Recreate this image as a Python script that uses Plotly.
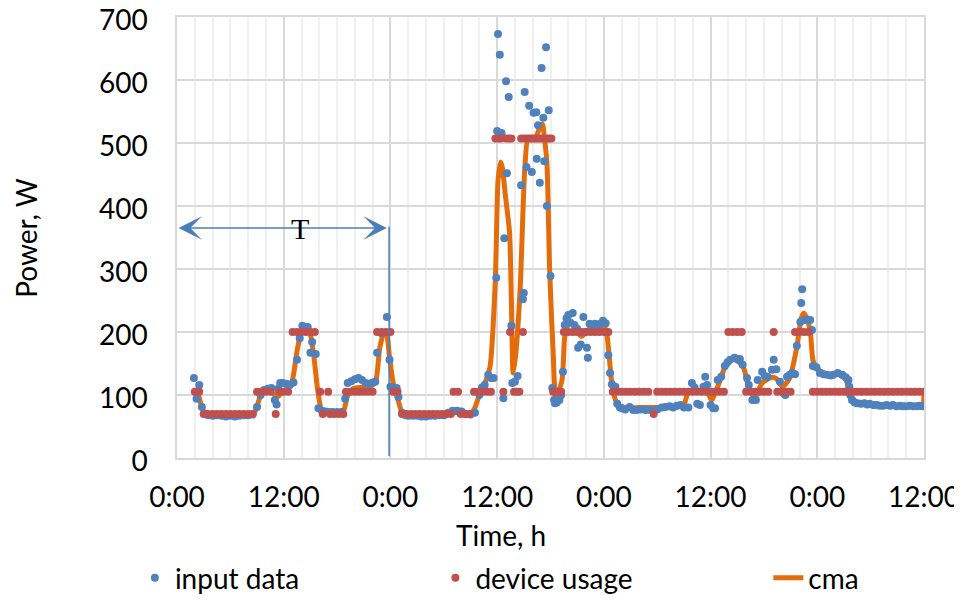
import plotly.graph_objects as go

# ---- data (hours from start, watts) ----
input_hours = [1.9, 2.2, 2.5, 2.8, 3.2, 3.5, 4, 4.5, 5, 5.5, 6, 6.5, 7, 7.5, 8, 8.5, 9, 9.4, 9.8, 10.2,
               10.6, 11, 11.2, 11.4, 11.6, 11.9, 12.3, 12.7, 13.1, 13.5, 13.8, 14.1, 14.4, 14.7, 15, 15.2,
               15.6, 15.9, 16.3, 16.7, 17.1, 17.5, 18, 18.5, 18.9, 19.2, 19.6, 20, 20.4, 20.8, 21.2, 21.6,
               22, 22.3, 22.5, 23, 23.6, 23.9, 24, 24.3, 24.7, 24.9, 25.3, 25.7, 26, 26.5, 27, 27.5, 28,
               28.5, 29, 29.5, 30, 30.5, 31, 31.5, 32, 32.5, 33, 33.5, 34, 34.3, 34.6, 35, 35.3, 35.6,
               35.9, 36, 36.1, 36.3, 36.5, 36.7, 36.8, 37, 37.1, 37.3, 37.6, 37.7, 38, 38.3, 38.7, 38.9,
               39, 39.1, 39.3, 39.6, 39.9, 40.1, 40.4, 40.45, 40.6, 40.8, 41, 41.2, 41.3, 41.5, 41.6, 41.8,
               42, 42.2, 42.4, 42.5, 42.7, 43, 43.2, 43.4, 43.6, 43.8, 44, 44.2, 44.5, 44.7, 45, 45.1,
               45.4, 45.7, 45.9, 46.1, 46.2, 46.4, 46.7, 47, 47.3, 47.6, 47.9, 48.2, 48.5, 48.7, 48.9,
               49.3, 49.5, 49.8, 50, 50.4, 50.9, 51.3, 51.7, 52.2, 52.7, 53.2, 53.6, 54, 54.5, 54.9, 55.4,
               55.8, 56.2, 56.6, 57, 57.5, 57.9, 58.2, 58.5, 58.8, 59.2, 59.4, 59.6, 60, 60.3, 60.5, 60.8,
               61.2, 61.6, 61.9, 62.2, 62.7, 63, 63.3, 63.6, 64.1, 64.3, 64.7, 65.1, 65.3, 65.8, 66.1,
               66.4, 66.9, 67.1, 67.4, 67.8, 68.2, 68.4, 68.6, 68.9, 69.2, 69.5, 69.7, 70.1, 70.2, 70.3,
               70.6, 70.9, 71.2, 71.4, 71.5, 71.9, 72.3, 72.7, 73.1, 73.5, 73.8, 74.3, 74.8, 75.2, 75.5,
               75.6, 75.7, 75.9, 76.2, 76.5, 76.9, 77.3, 77.6, 77.9, 78.3, 78.7, 79, 79.4, 79.8, 80.2,
               80.5, 80.9, 81.3, 81.6, 82, 82.4, 82.8, 83.2, 83.5, 83.8]
input_watts = [127, 94, 116, 81, 70, 68, 67, 68, 67, 66, 67, 66, 67, 68, 68, 69, 81, 100, 108, 110,
               111, 92, 85, 110, 119, 119, 118, 116, 120, 156, 190, 210, 208, 208, 167, 184,
               165, 79, 75, 74, 73, 73, 73, 73, 94, 119, 122, 125, 127, 124, 119, 118,
               120, 121, 167, 198, 224, 156, 113, 112, 111, 97, 72, 68, 67, 67, 67, 66, 66,
               67, 67, 68, 68, 72, 75, 75, 74, 70, 69, 72, 100, 112, 116, 132, 127, 127,
               286, 519, 673, 640, 516, 95, 349, 598, 452, 573, 210, 119, 121, 130, 433, 252,
               262, 581, 462, 559, 454, 548, 549, 475, 528, 437, 619, 540, 471, 652, 400, 552,
               289, 111, 92, 87, 88, 92, 100, 137, 211, 222, 227, 215, 230, 211, 205, 175,
               180, 224, 200, 175, 159, 213, 206, 213, 210, 213, 218, 214, 163, 135, 117,
               113, 86, 80, 79, 77, 81, 76, 76, 77, 76, 76, 74, 77, 80, 81, 82,
               80, 83, 84, 80, 80, 119, 112, 86, 84, 113, 129, 116, 84, 79, 79, 124,
               129, 146, 152, 156, 159, 157, 157, 148, 127, 116, 92, 92, 124, 137, 130,
               129, 140, 156, 141, 121, 103, 100, 129, 132, 135, 133, 178, 216, 246, 268,
               219, 220, 219, 203, 146, 144, 135, 133, 132, 131, 132, 135, 132, 128, 124,
               113, 100, 92, 88, 87, 86, 87, 85, 86, 84, 84, 83, 83, 84, 83,
               84, 82, 83, 82, 82, 83, 82, 82, 83, 82]

device_hours = [2.0, 2.5, 3.0, 3.5, 4, 4.5, 5, 5.5, 6, 6.5, 7, 7.5, 8, 8.5, 9, 9.5, 10, 10.5, 11.1, 11.5,
                12, 12.5, 13, 13.5, 14, 14.5, 15, 15.5, 16.1, 16.4, 17, 17.2, 17.7, 18.2, 18.7, 19, 19.5,
                20, 20.5, 21, 21.5, 22, 22.5, 23, 23.5, 24, 24.3, 24.8, 25.3, 25.8, 26.3, 26.8, 27.3,
                27.8, 28.3, 28.8, 29.3, 29.8, 30.3, 30.8, 31.1, 31.6, 31.9, 32.4, 32.9, 33.4, 33.9,
                34.4, 34.9, 35.3, 35.8, 36.1, 36.4, 36.7, 37.0, 37.3, 37.45, 37.6, 37.9, 38.2, 38.5,
                38.7, 38.9, 39.1, 39.4, 39.7, 40, 40.3, 40.6, 40.9, 41.2, 41.5, 41.8, 42.1, 42.3, 42.6,
                42.9, 43.2, 43.5, 44, 44.5, 45, 45.5, 46, 46.5, 47, 47.5, 48, 48.5, 49, 49.5, 50, 50.5,
                51, 51.5, 52, 52.5, 53, 53.6, 54, 54.5, 55, 55.5, 56, 56.5, 57, 57.5, 58, 58.5, 59,
                59.5, 60, 60.5, 61, 61.5, 62, 62.5, 63, 63.5, 64, 64.5, 65, 65.5, 66, 66.5, 67.1, 67.5,
                68, 68.5, 69, 69.5, 70, 70.5, 71, 71.5, 72, 72.5, 73, 73.5, 74, 74.5, 75, 75.5, 76,
                76.5, 77, 77.5, 78, 78.5, 79, 79.5, 80, 80.5, 81, 81.5, 82, 82.5, 83, 83.5, 84]
device_watts = [105, 105, 70, 70, 70, 70, 70, 70, 70, 70, 70, 70, 70, 70, 105, 105, 105, 105, 70, 105,
                105, 105, 200, 200, 200, 200, 200, 200, 105, 70, 105, 70, 70, 70, 70, 105, 105,
                105, 105, 105, 105, 105, 200, 200, 200, 200, 105, 105, 70, 70, 70, 70, 70,
                70, 70, 70, 70, 70, 70, 70, 105, 105, 70, 70, 70, 105, 105,
                105, 105, 105, 507, 507, 507, 105, 507, 507, 200, 507, 105, 105, 105,
                507, 200, 507, 507, 507, 507, 507, 507, 507, 507, 507, 507, 507, 105, 105,
                105, 105, 200, 200, 200, 200, 200, 200, 200, 200, 200, 200, 200, 105, 105, 105, 105,
                105, 105, 105, 105, 105, 70, 105, 105, 105, 105, 105, 105, 105, 105, 105, 105, 105,
                105, 105, 105, 105, 105, 200, 200, 200, 200, 105, 105, 105, 105, 105, 105, 200, 105,
                105, 105, 105, 200, 200, 200, 200, 105, 105, 105, 105, 105, 105, 105, 105, 105, 105,
                105, 105, 105, 105, 105, 105, 105, 105, 105, 105, 105, 105, 105, 105, 105, 105]

cma_hours = [2.0, 2.4, 2.8, 3.2, 4, 5, 6, 7, 8, 8.7, 9.3, 9.8, 10.5, 11, 11.4, 11.9, 12.5, 13, 13.5, 14,
             14.5, 15, 15.4, 15.8, 16.3, 17, 18, 18.7, 19.2, 19.8, 20.5, 21.5, 22.3, 22.8, 23.3, 23.6,
             23.9, 24.3, 24.8, 25.3, 26, 27, 28, 29, 30, 31, 32, 33, 33.5, 34, 34.6, 35.2, 35.8, 36.1,
             36.4, 36.6, 36.9, 37.4, 37.6, 37.8, 38.1, 38.6, 39.1, 39.5, 40.2, 40.8, 41.1, 41.3, 41.6,
             41.9, 42.3, 42.6, 43.3, 43.6, 44, 44.4, 45, 45.5, 46.4, 47.5, 48.2, 48.5, 49, 49.6, 50.5,
             52, 54, 56, 57, 57.5, 58.3, 59, 59.5, 60.1, 60.8, 61.6, 62.5, 63.6, 64.4, 65, 65.8, 66.9,
             67.4, 68.1, 68.9, 69.7, 70.2, 70.5, 70.8, 71.2, 71.5, 71.9, 73, 74.3, 75.2, 75.7, 76.5,
             78, 80, 82, 83.8, 84]
cma_watts = [105, 100, 80, 70, 70, 70, 70, 70, 70, 72, 95, 105, 106, 100, 98, 106, 110, 125, 170, 200,
             205, 195, 160, 110, 75, 72, 72, 74, 100, 110, 112, 112, 120, 175, 200, 195,
             160, 120, 95, 73, 70, 70, 70, 70, 70, 72, 72, 70, 80, 100, 118, 145, 283, 440,
             470, 460, 420, 357, 250, 135, 166, 272, 457, 508, 505, 525, 530, 510, 468,
             300, 166, 95, 124, 192, 212, 216, 200, 193, 205, 207, 205, 176, 108, 84, 80,
             80, 80, 80, 85, 105, 108, 105, 110, 92, 113, 143, 157, 147, 108, 97, 119, 128,
             126, 113, 127, 176, 222, 230, 222, 203, 156, 143, 133, 133, 125, 100, 87,
             84, 83, 83, 83, 105]

tick_hours = [0, 12, 24, 36, 48, 60, 72, 84]
tick_labels = ["0:00", "12:00", "0:00", "12:00", "0:00", "12:00", "0:00", "12:00"]

BLUE = "#4F81BD"
RED = "#C0504D"
ORANGE = "#E46C0A"
FONT = "Lato"
FS = 28

fig = go.Figure()
fig.add_trace(go.Scatter(x=cma_hours, y=cma_watts, mode="lines", name="cma",
                         line=dict(color=ORANGE, width=5, shape="spline", smoothing=0.6),
                         legend="legend3"))
fig.add_trace(go.Scatter(x=input_hours, y=input_watts, mode="markers", name="input data",
                         marker=dict(color=BLUE, size=8), legend="legend"))
fig.add_trace(go.Scatter(x=device_hours, y=device_watts, mode="markers", name="device usage",
                         marker=dict(color=RED, size=8), legend="legend2"))

# T period marker
fig.add_annotation(x=23.6, y=365, ax=0, ay=365, xref="x", yref="y", axref="x", ayref="y",
                   text="", showarrow=True, arrowside="end+start", arrowhead=3, startarrowhead=3,
                   arrowsize=2.6, startarrowsize=2.6, arrowwidth=1.5, arrowcolor="#4A7EBB", standoff=0,
                   startstandoff=0)
fig.add_shape(type="line", x0=23.85, x1=23.85, y0=3, y1=367, xref="x", yref="y",
              line=dict(color="#4A7EBB", width=1.5))
fig.add_annotation(x=13.8, y=365, xref="x", yref="y", text="T", showarrow=False,
                   font=dict(family="Liberation Serif", size=30, color="black"))

# axis titles
fig.add_annotation(x=0.434, y=-0.175, xref="paper", yref="paper", text="Time, h", showarrow=False,
                   font=dict(family=FONT, size=FS, color="black"), yanchor="middle")
fig.add_annotation(x=-0.203, y=0.5, xref="paper", yref="paper", text="Power, W", showarrow=False,
                   textangle=-90, font=dict(family=FONT, size=FS, color="black"), xanchor="center")

leg_common = dict(orientation="h", xref="container", yref="container", y=0.037, yanchor="middle",
                  xanchor="left", font=dict(size=FS), bgcolor="rgba(0,0,0,0)")

fig.update_layout(
    width=954, height=592,
    margin=dict(l=169, r=38, t=9, b=142),
    paper_bgcolor="white", plot_bgcolor="white",
    font=dict(family=FONT, size=FS, color="black"),
    showlegend=True,
    legend=dict(x=0.133, **leg_common),
    legend2=dict(x=0.448, **leg_common),
    legend3=dict(x=0.797, **leg_common),
    xaxis=dict(range=[0, 84], tickvals=tick_hours, ticktext=tick_labels, showgrid=True,
               gridcolor="#D9D9D9", gridwidth=1.5, zeroline=False, showline=True, linecolor="#D9D9D9",
               linewidth=1.5, mirror=True, ticks="", ticklabelstandoff=14, automargin=False,
               ticklabeloverflow="allow",
               minor=dict(dtick=2, showgrid=True, gridcolor="#F0F0F0", gridwidth=2)),
    yaxis=dict(range=[0, 700], dtick=100, showgrid=True, gridcolor="#D9D9D9", gridwidth=1.5,
               zeroline=False, showline=True, linecolor="#D9D9D9", linewidth=1.5, mirror=True,
               ticks="", ticklabelstandoff=22, automargin=False, ticklabeloverflow="allow",
               ticklabelshift=3),
)

fig.write_html("out.html")
